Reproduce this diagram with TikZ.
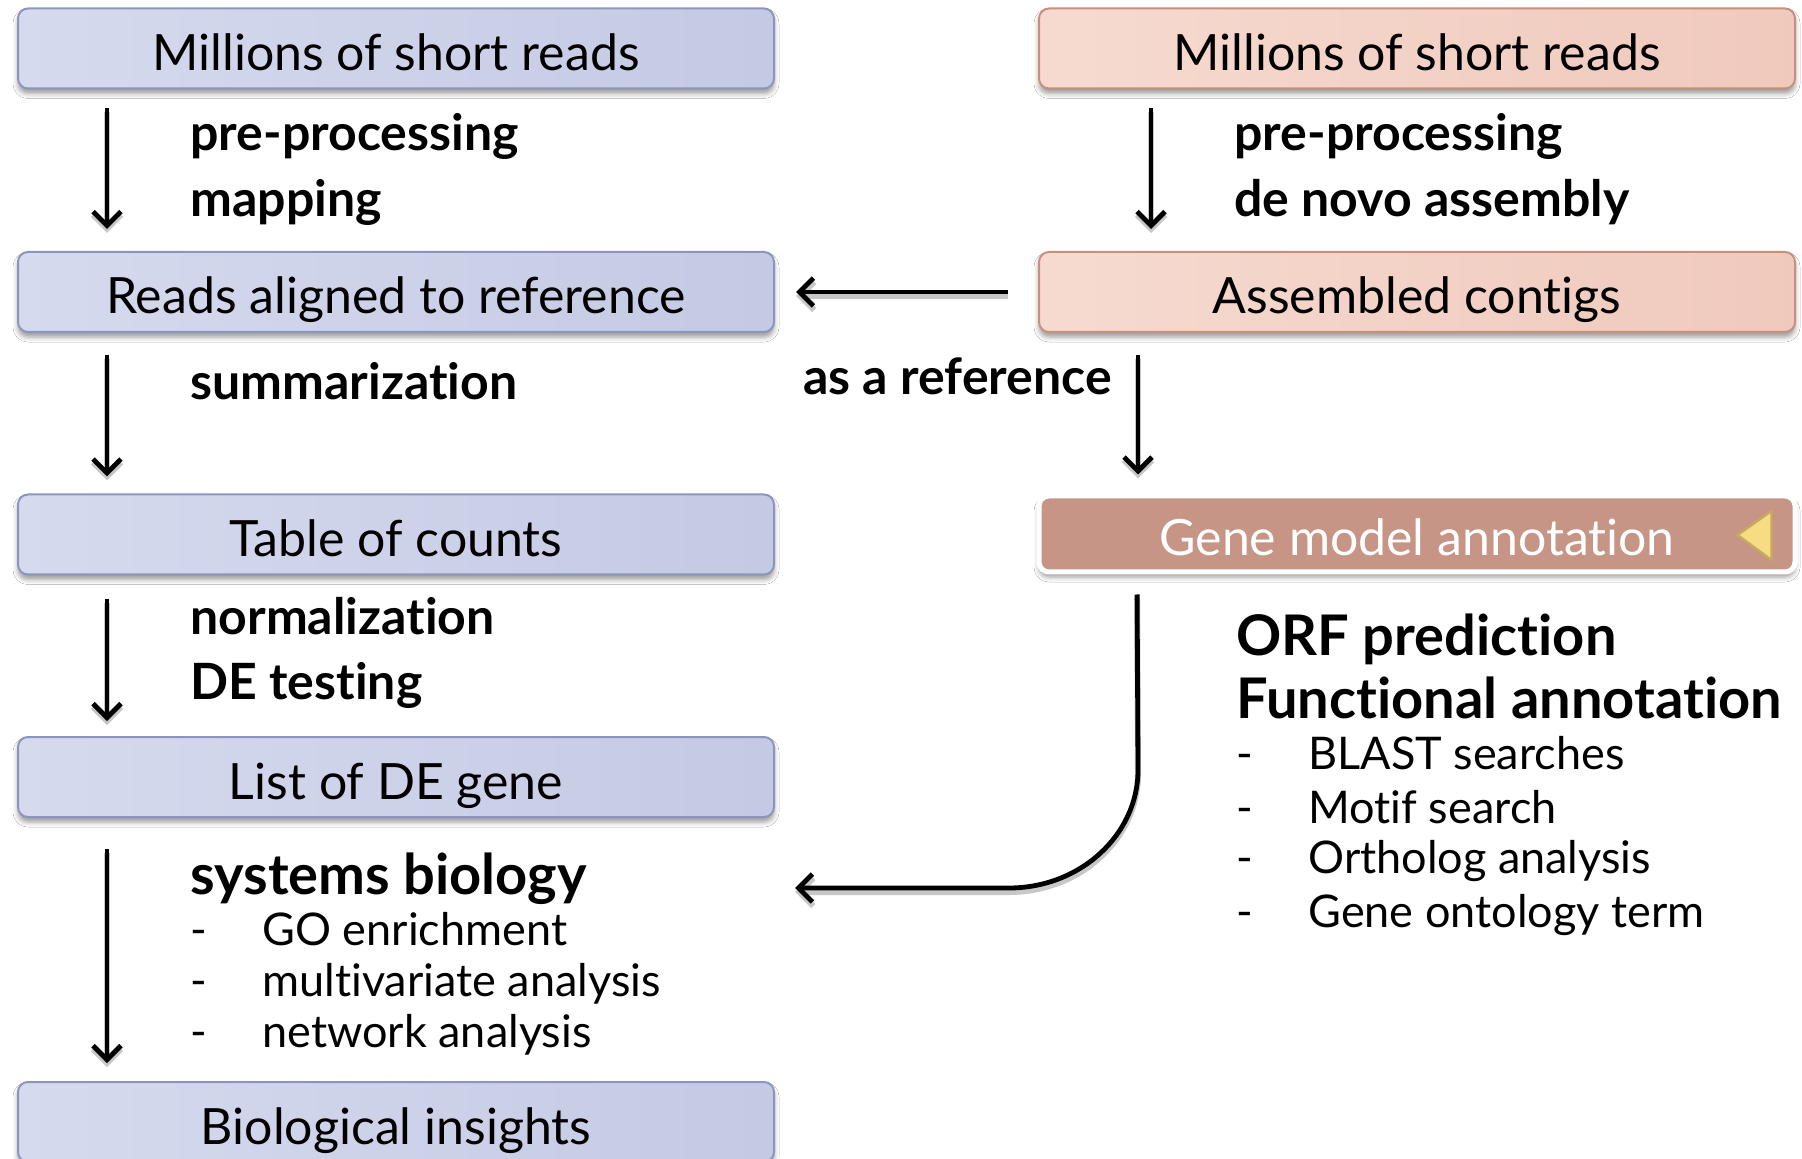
\documentclass[tikz,border=0pt]{standalone}
\usepackage{fontspec}
\setmainfont{Lato}[Ligatures=NoCommon]
\usetikzlibrary{arrows.meta,calc,shadows,shadows.blur}

\definecolor{blueIn}{HTML}{B6BCDC}
\definecolor{blueOut}{HTML}{D6DAEE}
\definecolor{blueEdge}{HTML}{8D95BF}
\definecolor{pinkIn}{HTML}{EDC2B4}
\definecolor{pinkOut}{HTML}{F6DAD0}
\definecolor{pinkEdge}{HTML}{C88F7E}
\definecolor{gmFill}{HTML}{C69585}
\definecolor{triFill}{HTML}{F8DC84}
\definecolor{triEdge}{HTML}{C6AA5E}

\newcommand\boxfont{\fontsize{25pt}{30pt}\selectfont}
\newcommand\labfont{\fontsize{25pt}{29pt}\selectfont\bfseries}
\newcommand\hdfont{\fontsize{28pt}{32pt}\selectfont\bfseries}
\newcommand\itemfont{\fontsize{22.5pt}{27pt}\selectfont}

\begin{document}
\begin{tikzpicture}[x=0.5pt,y=-0.5pt,
  box/.style={draw, line width=1pt, rounded corners=5pt,
    minimum width=378pt, minimum height=40pt, inner sep=0pt,
    text height=22pt, text depth=0pt,
    font=\boxfont,
    blur shadow={shadow xshift=0pt, shadow yshift=-2.5pt,
      shadow blur radius=2.5pt, shadow opacity=40}},
  leftbox/.style={box, draw=blueEdge,
    left color=blueOut, middle color=blueIn, right color=blueIn!55!blueOut},
  rightbox/.style={box, draw=pinkEdge,
    left color=pinkOut, middle color=pinkIn, right color=pinkIn!70!pinkOut},
  gmbox/.style={box, draw=white, line width=2.5pt, fill=gmFill,
    minimum height=38pt, text=white},
  lab/.style={anchor=mid west, inner sep=0pt, font=\labfont},
  hd/.style={anchor=mid west, inner sep=0pt, font=\hdfont},
  item/.style={anchor=mid west, inner sep=0pt, font=\itemfont},
  arr/.style={line width=2.4pt, -{Straight Barb[length=7pt,width=14pt]},
    preaction={draw=black!22, line width=3pt,
      transform canvas={yshift=-2pt}}}
]
\useasboundingbox (0,0) rectangle (1802,1159);
\fill[white] (0,0) rectangle (1802,1159);

% left column: reference-based pipeline
\node[leftbox] (b1) at (396,48.5) {Millions of short reads};
\node[leftbox] (b2) at (396,292) {Reads aligned to reference};
\node[leftbox] (b3) at (396,534.5) {Table of counts};
\node[leftbox] (b4) at (396,777) {List of DE gene};
\node[leftbox] (b5) at (396,1122) {Biological insights};

% right column: de novo pipeline
\node[rightbox] (r1) at (1417,48.5) {Millions of short reads};
\node[rightbox] (r2) at (1417,292) {Assembled contigs};
\node[gmbox] (gm) at (1417,534) {Gene model annotation};
\draw[triEdge, fill=triFill, line width=1.2pt, line join=round]
  ($(gm.east)+(-60,1)$) -- ($(gm.east)+(-26,-23)$) -- ($(gm.east)+(-26,26)$) -- cycle;

% step labels, left
\node[lab] (l1) at (190,145) {pre-processing};
\node[lab] (l2) at (190,211) {mapping};
\node[lab] (l3) at (190,394) {summarization};
\node[lab] (l4) at (190,629) {normalization};
\node[lab] (l5) at (190,694) {DE testing};
\node[hd]  (l6) at (190,889) {systems biology};
\node[item] (d1) at (190,940) {-};
\node[item] (d2) at (190,991) {-};
\node[item] (d3) at (190,1042) {-};
\node[item] (i1) at (262,940) {GO enrichment};
\node[item] (i2) at (262,991) {multivariate analysis};
\node[item] (i3) at (262,1042) {network analysis};

% step labels, right
\node[lab] (m1) at (1234,145) {pre-processing};
\node[lab] (m2) at (1234,211) {de novo assembly};
\node[lab] (m3) at (803,389) {as a reference};
\node[hd]  (m4) at (1236,650) {ORF prediction};
\node[hd]  (m5) at (1236,713) {Functional annotation};
\node[item] (e1) at (1236,764) {-};
\node[item] (e2) at (1236,818) {-};
\node[item] (e3) at (1236,868) {-};
\node[item] (e4) at (1236,922) {-};
\node[item] (j1) at (1308,764) {BLAST searches};
\node[item] (j2) at (1308,818) {Motif search};
\node[item] (j3) at (1308,868) {Ortholog analysis};
\node[item] (j4) at (1308,922) {Gene ontology term};

% arrow columns
\coordinate (lx) at (107,0);
\coordinate (rx1) at (1151,0);
\coordinate (rx2) at (1138,0);
\coordinate (cx) at (1137,0);
\coordinate (c1) at (1138,770);
\coordinate (c2) at (1009,888);
\coordinate (cend) at (795,888);

\draw[arr, shorten <=9.5pt, shorten >=11pt] (b1.south -| lx) -- (b2.north -| lx);
\draw[arr, shorten <=11pt, shorten >=8.5pt] (b2.south -| lx) -- (b3.north -| lx);
\draw[arr, shorten <=11.5pt, shorten >=7.5pt] (b3.south -| lx) -- (b4.north -| lx);
\draw[arr, shorten <=15.5pt, shorten >=9pt] (b4.south -| lx) -- (b5.north -| lx);

\draw[arr, shorten <=9.5pt, shorten >=11pt] (r1.south -| rx1) -- (r2.north -| rx1);
\draw[arr, shorten <=11pt, shorten >=9.5pt] (r2.south -| rx2) -- (gm.north -| rx2);
\draw[arr, shorten <=15pt, shorten >=10.5pt] (r2.west) -- (b2.east);
\draw[arr, shorten <=10pt] (gm.south -| cx) -- (c1)
  .. controls +(0,65) and +(71,0) .. (c2) -- (cend);
\end{tikzpicture}
\end{document}
